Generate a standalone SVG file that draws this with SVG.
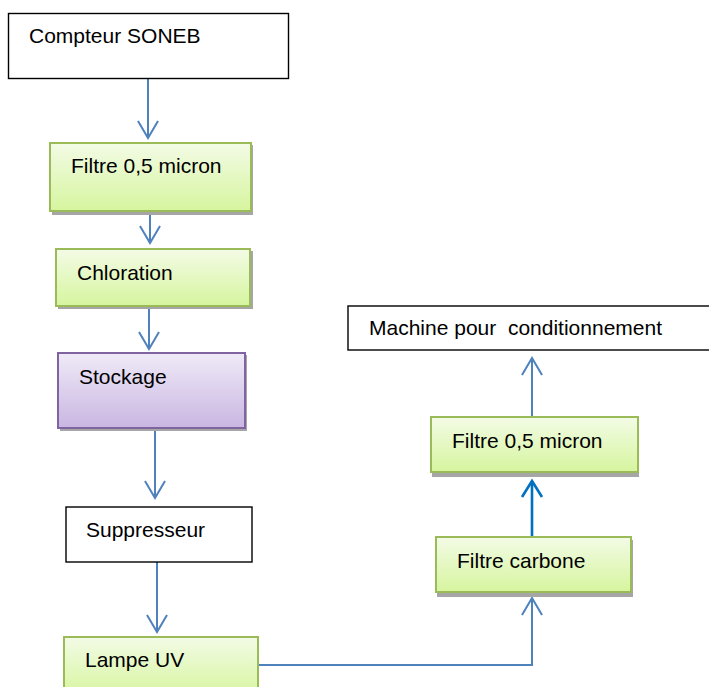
<svg xmlns="http://www.w3.org/2000/svg" width="709" height="687" viewBox="0 0 709 687">
<defs>
<linearGradient id="gGreen" x1="0" y1="0" x2="0" y2="1">
<stop offset="0" stop-color="#f3fbe6"/>
<stop offset="1" stop-color="#d6f59e"/>
</linearGradient>
<linearGradient id="gPurple" x1="0" y1="0" x2="0" y2="1">
<stop offset="0" stop-color="#efeaf7"/>
<stop offset="1" stop-color="#c9b6e2"/>
</linearGradient>
</defs>
<style>
text{font-family:"Liberation Sans",Arial,sans-serif;font-size:21px;fill:#000}
.plain{fill:#fff;stroke:#000;stroke-width:1.4}
.green{fill:url(#gGreen);stroke:#9bbb59;stroke-width:2}
.purple{fill:url(#gPurple);stroke:#8064a2;stroke-width:2}
.shadow{fill:#a6a6a6}
.conn{fill:none;stroke:#4f81bd;stroke-width:2}
.conn2{fill:none;stroke:#0070c0;stroke-width:2.6}
</style>
<rect width="709" height="687" fill="#fff"/>
<g id="connectors">
<line class="conn" x1="148" y1="78" x2="148" y2="138"/>
<path class="conn" d="M138,121 L148,138 L158,121"/>
<line class="conn" x1="150" y1="211" x2="150" y2="243"/>
<path class="conn" d="M140,226 L150,243 L160,226"/>
<line class="conn" x1="149" y1="309" x2="149" y2="349"/>
<path class="conn" d="M139,332 L149,349 L159,332"/>
<line class="conn" x1="155" y1="428" x2="155" y2="498"/>
<path class="conn" d="M145,481 L155,498 L165,481"/>
<line class="conn" x1="157" y1="562" x2="157" y2="632"/>
<path class="conn" d="M147,615 L157,632 L167,615"/>
<path class="conn" d="M258,665 L532,665 L532,598"/>
<path class="conn" d="M522,615 L532,598 L542,615"/>
<line class="conn2" x1="532" y1="537" x2="532" y2="481"/>
<path class="conn2" d="M522,497 L532,481 L542,497"/>
<line class="conn" x1="532" y1="416" x2="532" y2="358"/>
<path class="conn" d="M522,375 L532,358 L542,375"/>
</g>
<g id="compteur">
<rect class="plain" x="8.5" y="13.5" width="280" height="65"/>
<text x="29" y="43">Compteur SONEB</text>
</g>
<g id="filtre1">
<rect class="shadow" x="52" y="145" width="201" height="70"/>
<rect class="green" x="50" y="143" width="201" height="68"/>
<text x="71" y="173">Filtre 0,5 micron</text>
</g>
<g id="chloration">
<rect class="shadow" x="58" y="251" width="195" height="58"/>
<rect class="green" x="56" y="249" width="194" height="57"/>
<text x="77" y="280">Chloration</text>
</g>
<g id="stockage">
<rect class="shadow" x="60" y="355" width="187" height="76"/>
<rect class="purple" x="58" y="353" width="187" height="75"/>
<text x="79" y="384">Stockage</text>
</g>
<g id="suppresseur">
<rect class="plain" x="66" y="507" width="186" height="55"/>
<text x="86" y="537">Suppresseur</text>
</g>
<g id="lampe">
<rect class="green" x="64" y="637" width="194" height="60"/>
<text x="85" y="667">Lampe UV</text>
</g>
<g id="carbone">
<rect class="shadow" x="437" y="540" width="196" height="57"/>
<rect class="green" x="436" y="537" width="195" height="55"/>
<text x="457" y="568">Filtre carbone</text>
</g>
<g id="filtre2">
<rect class="shadow" x="432" y="420" width="207" height="57"/>
<rect class="green" x="431" y="417" width="207" height="55"/>
<text x="452" y="448">Filtre 0,5 micron</text>
</g>
<g id="machine">
<rect class="plain" x="348" y="306" width="380" height="44"/>
<text x="369" y="335" xml:space="preserve" style="white-space:pre">Machine pour  conditionnement</text>
</g>
</svg>
